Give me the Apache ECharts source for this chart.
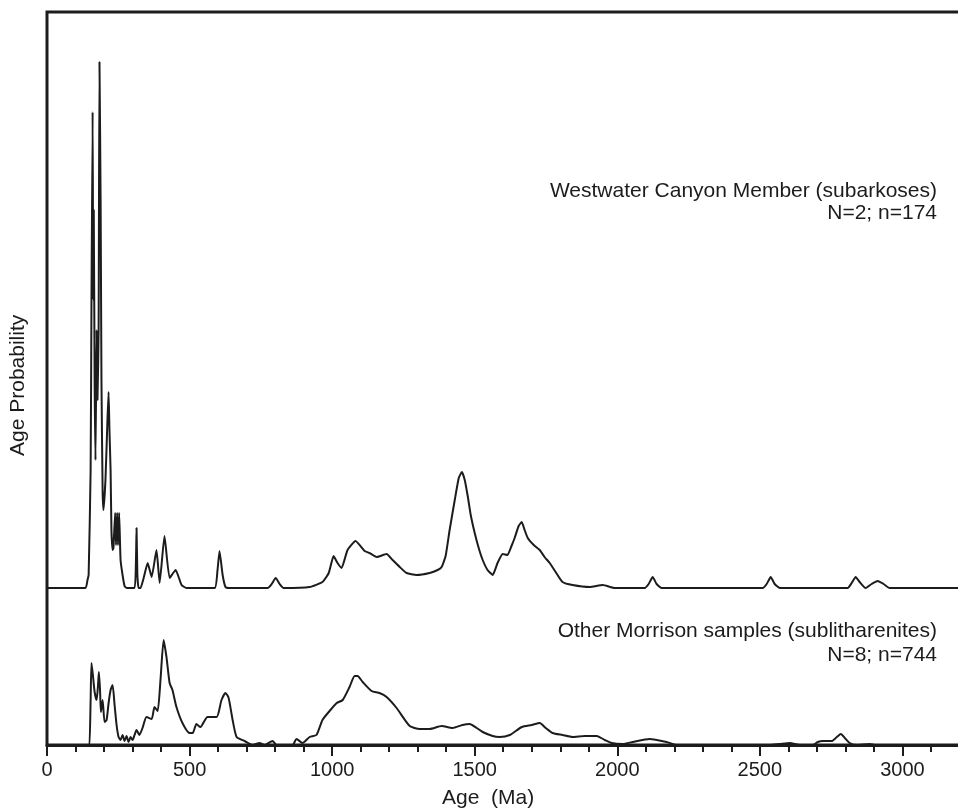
<!DOCTYPE html>
<html>
<head>
<meta charset="utf-8">
<script src="https://cdn.jsdelivr.net/npm/echarts@6/dist/echarts.min.js"></script>
<style>
  html, body { margin: 0; padding: 0; background: #fff; overflow: hidden; }
  /* the plot frame runs past the right edge of the page */
  #chart { width: 1050px; height: 809px; }
</style>
</head>
<body>
<div id="chart"></div>
<script>
// Detrital zircon age-probability curves (arbitrary density units)
const xTickLabels = ['0', '500', '1000', '1500', '2000', '2500', '3000'];

// Westwater Canyon Member (subarkoses), N=2; n=174
const upperAges = [0, 135, 142, 146, 153, 156, 160, 162, 164, 167, 170, 174, 177, 181, 184, 188, 191, 195, 198, 205,
  212, 216, 219, 223, 226, 230, 233, 239, 242, 246, 249, 253, 258, 265, 272, 279, 307, 312, 314, 317,
  321, 328, 339, 353, 367, 384, 395, 412, 430, 451, 472, 489, 588, 598, 605, 616, 626, 640, 774, 788,
  802, 816, 830, 921, 966, 988, 1005, 1019, 1033, 1054, 1082, 1114, 1131, 1156, 1191, 1212, 1237, 1261, 1296, 1342,
  1370, 1384, 1398, 1412, 1430, 1444, 1455, 1465, 1476, 1486, 1500, 1514, 1528, 1545, 1563, 1580, 1598, 1615, 1629, 1640,
  1654, 1665, 1675, 1686, 1707, 1728, 1745, 1763, 1784, 1808, 1843, 1903, 1949, 1991, 2096, 2110, 2124, 2138, 2155, 2510,
  2524, 2538, 2552, 2570, 2808, 2822, 2836, 2850, 2871, 2892, 2913, 2934, 2955, 3200];
const upperDensity = [0, 0, 8, 13, 118, 288, 476, 288, 378, 208, 128, 258, 188, 258, 526, 388, 208, 98, 78, 108,
  168, 196, 158, 118, 58, 38, 40, 75, 43, 75, 43, 75, 28, 13, 2, 0, 0, 28, 60, 13,
  0, 0, 10, 25, 11, 38, 5, 52, 10, 18, 3, 0, 0, 18, 37, 13, 1, 0, 0, 4,
  10, 4, 0, 1, 6, 15, 32, 25, 20, 38, 47, 37, 35, 31, 34, 28, 21, 15, 13, 15,
  18, 21, 32, 58, 88, 110, 116, 108, 91, 73, 55, 40, 28, 18, 13, 25, 34, 33, 42, 50,
  62, 66, 58, 50, 43, 38, 31, 25, 16, 6, 3, 1, 3, 0, 0, 4, 11, 4, 0, 0,
  4, 11, 4, 0, 0, 5, 11, 6, 0, 4, 7, 4, 0, 0];

// Other Morrison samples (sublitharenites), N=8; n=744
const lowerAges = [0, 146, 149, 153, 156, 161, 167, 174, 179, 182, 186, 189, 195, 202, 209, 216, 223, 230, 237, 244,
  251, 258, 265, 272, 279, 286, 293, 300, 307, 314, 324, 335, 349, 367, 377, 388, 398, 409, 419, 430,
  440, 454, 475, 500, 511, 524, 538, 563, 595, 612, 626, 637, 651, 665, 693, 721, 745, 763, 791, 805,
  861, 875, 896, 921, 945, 966, 991, 1016, 1037, 1061, 1079, 1089, 1107, 1138, 1166, 1191, 1226, 1272, 1307, 1342,
  1384, 1422, 1457, 1482, 1507, 1528, 1563, 1587, 1623, 1665, 1700, 1728, 1749, 1773, 1808, 1843, 1886, 1928, 1956, 1980,
  2019, 2054, 2113, 2173, 2208, 2535, 2570, 2605, 2640, 2686, 2703, 2721, 2752, 2770, 2784, 2798, 2815, 2840, 2886, 2903,
  3200];
const lowerDensity = [0, 0, 0, 45, 82, 70, 53, 45, 60, 73, 55, 33, 45, 23, 25, 42, 55, 60, 40, 20,
  8, 5, 10, 4, 9, 3, 8, 5, 10, 15, 10, 17, 28, 26, 38, 34, 65, 105, 88, 62,
  55, 38, 22, 12, 12, 21, 18, 28, 28, 45, 52, 47, 25, 8, 4, 0, 2, 0, 4, 0,
  0, 6, 2, 8, 10, 25, 34, 42, 45, 58, 69, 69, 63, 54, 52, 48, 37, 19, 16, 16,
  19, 17, 20, 21, 17, 13, 9, 8, 10, 18, 20, 22, 17, 12, 10, 8, 9, 9, 5, 2,
  1, 3, 6, 3, 0, 0, 1, 2, 0, 0, 3, 4, 4, 8, 11, 7, 2, 0, 1, 0,
  0];

const pairs = (xs, ys) => xs.map((x, i) => [x, ys[i]]);

const INK = '#1c1c1c';
const FONT = '"Liberation Sans", Arial, sans-serif';
const AGE_MIN = 0, AGE_MAX = 3500;
const GRID_LEFT = 47, GRID_WIDTH = 998;

const chart = echarts.init(document.getElementById('chart'), null, { renderer: 'canvas' });

chart.setOption({
  backgroundColor: '#ffffff',
  animation: false,
  grid: [
    // outer frame with the age axis; hosts the lower curve
    { left: GRID_LEFT, width: GRID_WIDTH, top: 12, bottom: 64, show: true, borderColor: INK, borderWidth: 3, backgroundColor: 'transparent' },
    // upper curve panel
    { left: GRID_LEFT, width: GRID_WIDTH, top: 12, bottom: 221 }
  ],
  xAxis: [
    {
      gridIndex: 0, type: 'value', min: AGE_MIN, max: AGE_MAX, interval: 500,
      axisLine: { show: true, lineStyle: { color: INK, width: 3 } },
      axisTick: { show: true, length: 11, lineStyle: { color: INK, width: 2 } },
      minorTick: { show: true, splitNumber: 5, length: 7, lineStyle: { color: INK, width: 2 } },
      splitLine: { show: false },
      axisLabel: {
        show: true, margin: 15, fontSize: 20, color: INK, fontFamily: FONT,
        formatter: v => xTickLabels.includes(String(v)) ? String(v) : ''
      }
    },
    {
      gridIndex: 1, type: 'value', min: AGE_MIN, max: AGE_MAX, show: false
    }
  ],
  yAxis: [
    { gridIndex: 0, type: 'value', min: 0, max: 733, show: false },
    { gridIndex: 1, type: 'value', min: 0, max: 576, show: false }
  ],
  series: [
    {
      name: 'Other Morrison samples', type: 'line', xAxisIndex: 0, yAxisIndex: 0,
      data: pairs(lowerAges, lowerDensity), showSymbol: false, smooth: 0.2,
      lineStyle: { color: INK, width: 2 }, z: 2
    },
    {
      name: 'Westwater Canyon Member', type: 'line', xAxisIndex: 1, yAxisIndex: 1,
      data: pairs(upperAges, upperDensity), showSymbol: false, smooth: 0.15,
      lineStyle: { color: INK, width: 2 }, z: 2
    }
  ],
  graphic: [
    { type: 'text', x: 937, y: 181, style: { text: 'Westwater Canyon Member (subarkoses)', font: '21px ' + FONT, fill: INK, textAlign: 'right' } },
    { type: 'text', x: 937, y: 203, style: { text: 'N=2; n=174', font: '21px ' + FONT, fill: INK, textAlign: 'right' } },
    { type: 'text', x: 937, y: 621, style: { text: 'Other Morrison samples (sublitharenites)', font: '21px ' + FONT, fill: INK, textAlign: 'right' } },
    { type: 'text', x: 937, y: 645, style: { text: 'N=8; n=744', font: '21px ' + FONT, fill: INK, textAlign: 'right' } },
    { type: 'text', x: 442, y: 788, style: { text: 'Age  (Ma)', font: '21px ' + FONT, fill: INK } },
    { type: 'text', x: 8, y: 456, rotation: Math.PI / 2, style: { text: 'Age Probability', font: '21px ' + FONT, fill: INK } }
  ]
});
</script>
</body>
</html>
